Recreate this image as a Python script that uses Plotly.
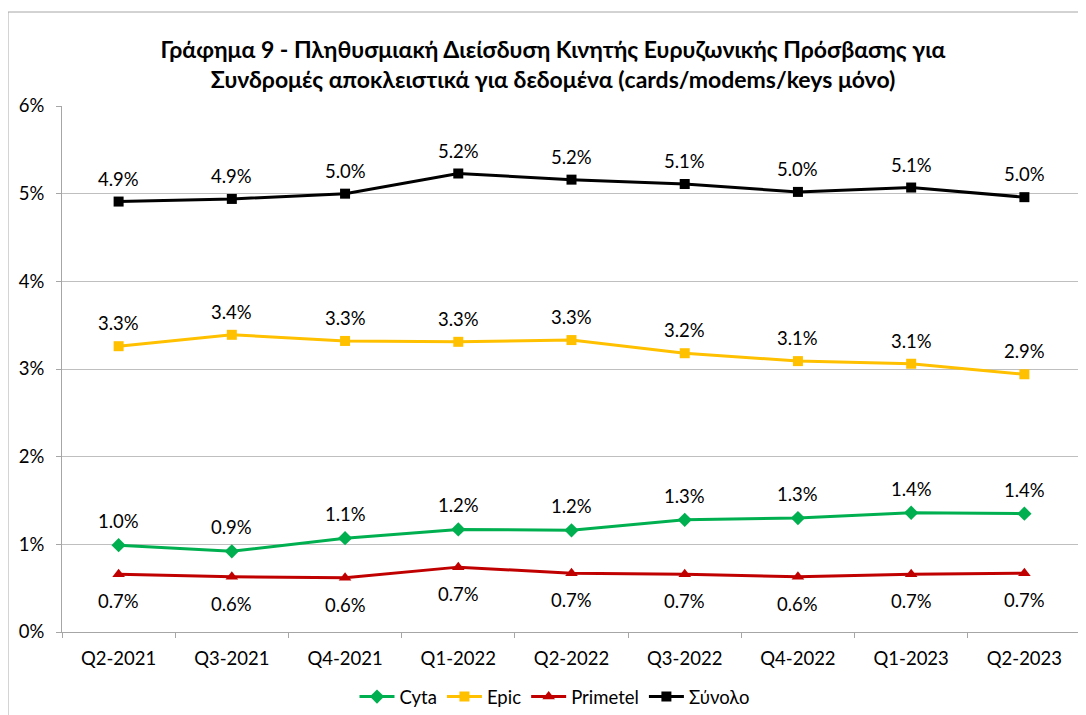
import plotly.graph_objects as go

quarters = ["Q2-2021", "Q3-2021", "Q4-2021", "Q1-2022", "Q2-2022",
            "Q3-2022", "Q4-2022", "Q1-2023", "Q2-2023"]
cyta = [0.0099, 0.0092, 0.0107, 0.0117, 0.0116, 0.0128, 0.0130, 0.0136, 0.0135]
epic = [0.0326, 0.0339, 0.0332, 0.0331, 0.0333, 0.0318, 0.0309, 0.0306, 0.0294]
primetel = [0.0066, 0.0063, 0.0062, 0.0074, 0.0067, 0.0066, 0.0063, 0.0066, 0.0067]
total = [0.0491, 0.0494, 0.0500, 0.0523, 0.0516, 0.0511, 0.0502, 0.0507, 0.0496]
y_ticks = [0, 0.01, 0.02, 0.03, 0.04, 0.05, 0.06]

FONT = "Lato, 'Open Sans', sans-serif"
FS = 18.5

series = [
    ("Cyta", cyta, "#00B050", "diamond", 11, 24),
    ("Epic", epic, "#FFC000", "square", 10, 23),
    ("Primetel", primetel, "#C00000", "triangle-up", 11, -27),
    ("Σύνολο", total, "#000000", "square", 10, 23),
]

fig = go.Figure()
annotations = []
for name, vals, color, sym, size, shift in series:
    fig.add_trace(go.Scatter(
        x=quarters, y=vals, name=name, mode="lines+markers",
        line=dict(color=color, width=3),
        marker=dict(symbol=sym, size=size, color=color),
    ))
    for q, v in zip(quarters, vals):
        annotations.append(dict(
            x=q, y=v, xref="x", yref="y", text=f"{v*100:.1f}%",
            showarrow=False, yshift=shift, xanchor="center", yanchor="middle",
            font=dict(size=FS, color="#000000", family=FONT),
        ))

fig.update_layout(
    width=1086, height=715,
    margin=dict(l=54, r=13, t=98, b=91),
    paper_bgcolor="white", plot_bgcolor="white",
    font=dict(family=FONT, size=FS, color="#000000"),
    title=dict(
        text="<b>Γράφημα 9 - Πληθυσμιακή Διείσδυση Κινητής Ευρυζωνικής Πρόσβασης για<br>Συνδρομές αποκλειστικά για δεδομένα (cards/modems/keys μόνο)</b>",
        x=545 / 1086, xanchor="center", y=1 - 50 / 715, yanchor="middle", yref="container",
        font=dict(size=23, family=FONT, color="#000000"),
    ),
    showlegend=True,
    legend=dict(orientation="h", x=547 / 1086, xanchor="center", xref="container",
                y=1 - 689 / 715, yanchor="middle", yref="container",
                font=dict(size=FS, family=FONT), itemwidth=35, tracegroupgap=0),
    xaxis=dict(
        type="category", range=[-0.5, 8.5], automargin=False,
        showgrid=False, showline=True, linecolor="#A6A6A6", linewidth=1,
        ticks="outside", tickson="boundaries", ticklen=5, tickcolor="#A6A6A6",
        tickfont=dict(size=FS), ticklabelstandoff=10, fixedrange=True,
    ),
    yaxis=dict(
        range=[0, 0.06], tickvals=y_ticks, tickformat=".0%", automargin=False,
        showgrid=True, gridcolor="#BFBFBF", gridwidth=1,
        showline=True, linecolor="#A6A6A6", linewidth=1,
        ticks="outside", ticklen=5, tickcolor="#A6A6A6",
        tickfont=dict(size=FS), ticklabelstandoff=8, zeroline=False,
    ),
    annotations=annotations,
    shapes=[dict(type="rect", xref="paper", yref="paper",
                 x0=-0.053, x1=1.02, y0=-0.19, y1=(624 - 4) / 526,
                 line=dict(color="#A6A6A6", width=1), fillcolor="rgba(0,0,0,0)",
                 layer="below")],
)

fig.write_html("out.html")
